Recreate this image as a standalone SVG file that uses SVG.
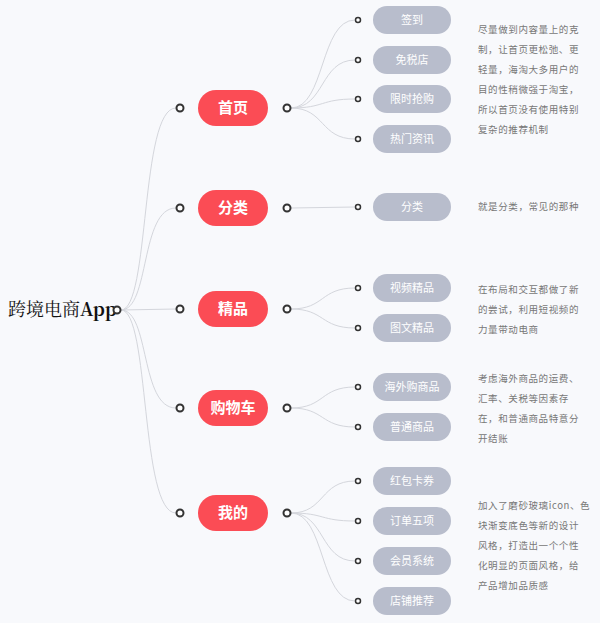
<svg xmlns="http://www.w3.org/2000/svg" width="600" height="623" viewBox="0 0 600 623">
<style>
.c{fill:none;stroke:#d4d6dc;stroke-width:1}
.o{fill:#fff;stroke:#333;stroke-width:2}
.s{fill:#fff;stroke:#333;stroke-width:1.5}
.r{fill:#fb4c55}
.g{fill:#b8bdcc}
.rt{font-family:"Noto Sans CJK SC",sans-serif;font-size:15px;font-weight:bold;fill:#fff;text-anchor:middle}
.gt{font-family:"Noto Sans CJK SC",sans-serif;font-size:11px;fill:#fff;text-anchor:middle}
.d{font-family:"Noto Sans CJK SC",sans-serif;font-size:9.5px;fill:#777;letter-spacing:0.6px}
</style>
<rect width="600" height="623" fill="#f8f9fc"/>
<g id="connectors">
<path class="c" d="M121 310 C150 310 140 108 176 108"/>
<path class="c" d="M121 310 C150 310 140 208 176 208"/>
<path class="c" d="M121 310 L176 309"/>
<path class="c" d="M121 310 C150 310 140 408 176 408"/>
<path class="c" d="M121 310 C150 310 140 513 176 513"/>
<path class="c" d="M291 108 C325 108 320 20 355 20"/>
<path class="c" d="M291 108 C325 108 320 60 355 60"/>
<path class="c" d="M291 108 C325 108 320 99 355 99"/>
<path class="c" d="M291 108 C325 108 320 139 355 139"/>
<path class="c" d="M291 208 L355 207"/>
<path class="c" d="M291 309 C325 309 320 288 355 288"/>
<path class="c" d="M291 309 C325 309 320 328 355 328"/>
<path class="c" d="M291 408 C325 408 320 387 355 387"/>
<path class="c" d="M291 408 C325 408 320 427 355 427"/>
<path class="c" d="M291 513 C325 513 320 481 355 481"/>
<path class="c" d="M291 513 C325 513 320 521 355 521"/>
<path class="c" d="M291 513 C325 513 320 561 355 561"/>
<path class="c" d="M291 513 C325 513 320 601 355 601"/>
</g>
<g id="root"><text x="8" y="316" font-family="'Noto Serif CJK SC','Liberation Serif',serif" font-size="18" fill="#111">跨境电商<tspan font-weight="bold">App</tspan></text><circle class="o" cx="117" cy="310" r="3.5"/></g>
<g id="n1"><circle class="o" cx="180" cy="108" r="3.5"/><rect class="r" x="198" y="90" width="70" height="36" rx="18"/><text class="rt" x="233" y="113">首页</text><circle class="o" cx="287" cy="108" r="3.5"/></g>
<g id="n2"><circle class="o" cx="180" cy="208" r="3.5"/><rect class="r" x="198" y="190" width="70" height="36" rx="18"/><text class="rt" x="233" y="213">分类</text><circle class="o" cx="287" cy="208" r="3.5"/></g>
<g id="n3"><circle class="o" cx="180" cy="309" r="3.5"/><rect class="r" x="198" y="291" width="70" height="36" rx="18"/><text class="rt" x="233" y="314">精品</text><circle class="o" cx="287" cy="309" r="3.5"/></g>
<g id="n4"><circle class="o" cx="180" cy="408" r="3.5"/><rect class="r" x="198" y="390" width="70" height="36" rx="18"/><text class="rt" x="233" y="413">购物车</text><circle class="o" cx="287" cy="408" r="3.5"/></g>
<g id="n5"><circle class="o" cx="180" cy="513" r="3.5"/><rect class="r" x="198" y="495" width="70" height="36" rx="18"/><text class="rt" x="233" y="518">我的</text><circle class="o" cx="287" cy="513" r="3.5"/></g>
<g id="l1"><circle class="s" cx="358" cy="20" r="2.5"/><rect class="g" x="373" y="6" width="78" height="28" rx="14"/><text class="gt" x="412" y="24">签到</text></g>
<g id="l2"><circle class="s" cx="358" cy="60" r="2.5"/><rect class="g" x="373" y="46" width="78" height="28" rx="14"/><text class="gt" x="412" y="64">免税店</text></g>
<g id="l3"><circle class="s" cx="358" cy="99" r="2.5"/><rect class="g" x="373" y="85" width="78" height="28" rx="14"/><text class="gt" x="412" y="103">限时抢购</text></g>
<g id="l4"><circle class="s" cx="358" cy="139" r="2.5"/><rect class="g" x="373" y="125" width="78" height="28" rx="14"/><text class="gt" x="412" y="143">热门资讯</text></g>
<g id="l5"><circle class="s" cx="358" cy="207" r="2.5"/><rect class="g" x="373" y="193" width="78" height="28" rx="14"/><text class="gt" x="412" y="211">分类</text></g>
<g id="l6"><circle class="s" cx="358" cy="288" r="2.5"/><rect class="g" x="373" y="274" width="78" height="28" rx="14"/><text class="gt" x="412" y="292">视频精品</text></g>
<g id="l7"><circle class="s" cx="358" cy="328" r="2.5"/><rect class="g" x="373" y="314" width="78" height="28" rx="14"/><text class="gt" x="412" y="332">图文精品</text></g>
<g id="l8"><circle class="s" cx="358" cy="387" r="2.5"/><rect class="g" x="373" y="373" width="78" height="28" rx="14"/><text class="gt" x="412" y="391">海外购商品</text></g>
<g id="l9"><circle class="s" cx="358" cy="427" r="2.5"/><rect class="g" x="373" y="413" width="78" height="28" rx="14"/><text class="gt" x="412" y="431">普通商品</text></g>
<g id="l10"><circle class="s" cx="358" cy="481" r="2.5"/><rect class="g" x="373" y="467" width="78" height="28" rx="14"/><text class="gt" x="412" y="485">红包卡券</text></g>
<g id="l11"><circle class="s" cx="358" cy="521" r="2.5"/><rect class="g" x="373" y="507" width="78" height="28" rx="14"/><text class="gt" x="412" y="525">订单五项</text></g>
<g id="l12"><circle class="s" cx="358" cy="561" r="2.5"/><rect class="g" x="373" y="547" width="78" height="28" rx="14"/><text class="gt" x="412" y="565">会员系统</text></g>
<g id="l13"><circle class="s" cx="358" cy="601" r="2.5"/><rect class="g" x="373" y="587" width="78" height="28" rx="14"/><text class="gt" x="412" y="605">店铺推荐</text></g>
<g id="notes">
<text class="d" x="478" y="33">尽量做到内容量上的克</text>
<text class="d" x="478" y="53">制，让首页更松弛、更</text>
<text class="d" x="478" y="73">轻量，海淘大多用户的</text>
<text class="d" x="478" y="93">目的性稍微强于淘宝，</text>
<text class="d" x="478" y="113">所以首页没有使用特别</text>
<text class="d" x="478" y="133">复杂的推荐机制</text>
<text class="d" x="478" y="210">就是分类，常见的那种</text>
<text class="d" x="478" y="293">在布局和交互都做了新</text>
<text class="d" x="478" y="313">的尝试，利用短视频的</text>
<text class="d" x="478" y="333">力量带动电商</text>
<text class="d" x="478" y="382">考虑海外商品的运费、</text>
<text class="d" x="478" y="402">汇率、关税等因素存</text>
<text class="d" x="478" y="422">在，和普通商品特意分</text>
<text class="d" x="478" y="442">开结账</text>
<text class="d" x="478" y="509">加入了磨砂玻璃icon、色</text>
<text class="d" x="478" y="529">块渐变底色等新的设计</text>
<text class="d" x="478" y="549">风格，打造出一个个性</text>
<text class="d" x="478" y="569">化明显的页面风格，给</text>
<text class="d" x="478" y="589">产品增加品质感</text>
</g>
</svg>
